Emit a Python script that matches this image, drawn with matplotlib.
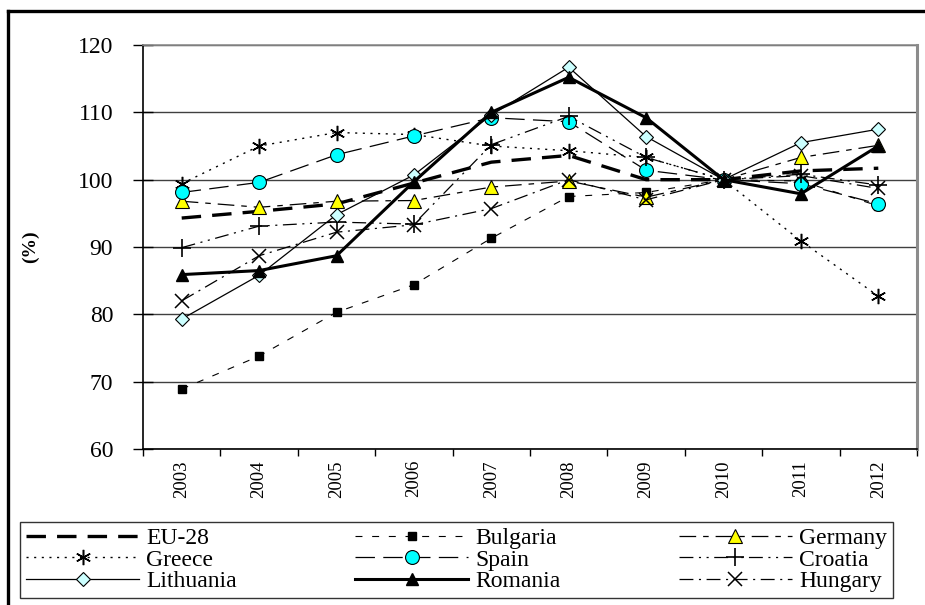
import numpy as np
import matplotlib
matplotlib.use("Agg")
import matplotlib.pyplot as plt
from matplotlib.lines import Line2D

plt.rcParams['font.family'] = ['Liberation Serif', 'DejaVu Serif']
plt.rcParams['lines.scale_dashes'] = False

years = ['2003', '2004', '2005', '2006', '2007', '2008', '2009', '2010', '2011', '2012']

eu28      = [94.3, 95.3, 96.4, 99.5, 102.6, 103.6, 100.0, 100.0, 101.3, 101.7]
bulgaria  = [68.9, 73.8, 80.3, 84.4, 91.3, 97.5, 98.1, 100.0, 99.8, 96.1]
germany   = [96.8, 95.9, 96.8, 96.9, 98.9, 99.8, 97.4, 100.0, 103.3, 105.1]
greece    = [99.4, 105.0, 107.0, 106.7, 105.0, 104.3, 103.3, 100.0, 90.9, 82.7]
spain     = [98.1, 99.6, 103.7, 106.5, 109.2, 108.6, 101.4, 100.0, 99.4, 96.4]
croatia   = [89.9, 93.1, 93.7, 93.4, 105.2, 109.4, 103.3, 100.0, 100.8, 99.2]
lithuania = [79.3, 85.8, 94.8, 100.7, 109.6, 116.7, 106.4, 100.0, 105.5, 107.5]
romania   = [85.9, 86.5, 88.7, 99.7, 110.0, 115.2, 109.2, 100.0, 97.9, 105.0]
hungary   = [82.0, 88.7, 92.2, 93.3, 95.7, 100.0, 97.0, 100.0, 100.6, 98.7]

names = ['EU-28', 'Bulgaria', 'Germany', 'Greece', 'Spain', 'Croatia',
         'Lithuania', 'Romania', 'Hungary']
series = [eu28, bulgaria, germany, greece, spain, croatia, lithuania, romania, hungary]

styles = [
    dict(color='black', lw=2.4, ls=(0, (14, 8)), marker=None),
    dict(color='black', lw=0.8, ls=(0, (5, 7)), marker='s', ms=6, mfc='black', mec='black'),
    dict(color='black', lw=0.9, ls=(0, (12, 5, 4, 5)), marker='^', ms=10, mfc='#FFFF00', mec='black', mew=0.8),
    dict(color='black', lw=1.0, ls=(0, (1.5, 4)), marker=(6, 2, 0), ms=11, mec='black', mew=1.1),
    dict(color='black', lw=0.9, ls=(0, (14, 6)), marker='o', ms=10, mfc='#00FFFF', mec='black', mew=0.8),
    dict(color='black', lw=0.9, ls=(0, (10, 4, 1.5, 4, 1.5, 4)), marker='+', ms=13, mec='black', mew=1.2),
    dict(color='black', lw=0.9, ls='-', marker='D', ms=7.5, mfc='#CCFFFF', mec='black', mew=0.8),
    dict(color='black', lw=2.2, ls='-', marker='^', ms=9, mfc='black', mec='black'),
    dict(color='black', lw=0.9, ls=(0, (10, 4, 1.5, 4)), marker='x', ms=10, mec='black', mew=1.1),
]

fig = plt.figure(figsize=(9.25, 6.05), dpi=100)

# outer frame (left and top only, the rest is cut off)
fig.add_artist(Line2D([8 / 925, 8 / 925], [0, 1 - 11 / 605], transform=fig.transFigure,
                      color='black', lw=2.4))
fig.add_artist(Line2D([8 / 925, 1], [1 - 11 / 605, 1 - 11 / 605], transform=fig.transFigure,
                      color='black', lw=2.4))

ax = fig.add_axes([143 / 925, 1 - 449 / 605, (917 - 143) / 925, (449 - 45) / 605])
x = np.arange(len(years))

handles = []
for name, vals, st in zip(names, series, styles):
    h, = ax.plot(x, vals, label=name, **st)
    handles.append(h)

ax.set_xlim(-0.5, len(years) - 0.5)
ax.set_ylim(60, 120)
ax.set_yticks(range(60, 121, 10))
ax.set_xticks(x)
ax.set_xticklabels(years, rotation=90, fontsize=13.5)
ax.set_xticks(np.arange(-0.5, len(years), 1), minor=True)
ax.tick_params(axis='x', which='major', length=0, pad=8)
ax.tick_params(axis='x', which='minor', length=5, width=1, direction='out')
ax.tick_params(axis='y', length=15, width=1, direction='inout', labelsize=17, pad=14)
ax.grid(axis='y', color='#404040', lw=1)
ax.set_axisbelow(True)

for s in ['top', 'right']:
    ax.spines[s].set_color('#8c8c8c')
ax.spines['top'].set_linewidth(1.2)
ax.spines['right'].set_linewidth(2.2)
ax.spines['left'].set_linewidth(1.2)
ax.spines['bottom'].set_linewidth(1.2)

ax.set_ylabel('(%)', fontsize=14, fontweight='bold', labelpad=28)

order = [0, 3, 6, 1, 4, 7, 2, 5, 8]
leg = fig.legend([handles[i] for i in order], [names[i] for i in order],
                 loc='lower left', ncol=3, mode='expand',
                 bbox_to_anchor=(20 / 925, 1 - 598 / 605, (893 - 20) / 925, 71 / 605),
                 fontsize=17, frameon=True, fancybox=False, edgecolor='black',
                 handlelength=4.8, handletextpad=0.3, labelspacing=0.0,
                 borderpad=0.25, columnspacing=1.0, borderaxespad=0)
leg.get_frame().set_linewidth(1.0)

fig.savefig('out.png', dpi=100)
